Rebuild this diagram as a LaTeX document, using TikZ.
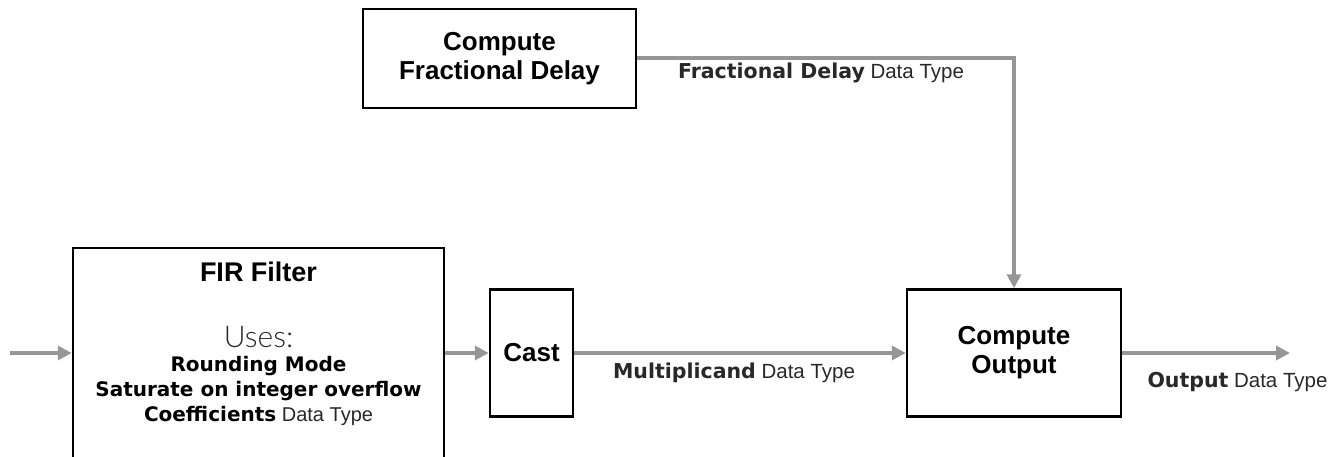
\documentclass[tikz,border=0pt]{standalone}
\usepackage{fontspec}
\setmainfont{Liberation Sans}
\newfontfamily\heavyfont{DejaVu Sans}
\newfontfamily\lightfont{Lato Light}
\usetikzlibrary{arrows.meta}
\definecolor{arrowgray}{RGB}{150,150,150}
\definecolor{lbltext}{RGB}{40,40,40}
\newcommand\hv[1]{{\heavyfont\bfseries #1}}
\tikzset{
  blockbox/.style={draw=black, line width=2.5pt, inner sep=0pt, align=center,
    font=\fontsize{26}{29}\selectfont\bfseries},
  conn/.style={draw=arrowgray, line width=4pt, -{Triangle[length=14pt,width=14pt]}},
  lbl/.style={inner sep=0pt, text=lbltext, font=\fontsize{20.5}{24}\selectfont},
  firtext/.style={inner sep=0pt, align=center}
}
\begin{document}
\begin{tikzpicture}[x=1pt,y=-1pt]
\useasboundingbox (0,0) rectangle (1343,457);
% blocks
\node[blockbox, minimum width=273pt, minimum height=99pt] (cfd) at (499.5,58.5) {Compute\\Fractional Delay};
\node[blockbox, minimum width=371pt, minimum height=222pt] (fir) at (258.5,359) {};
\node[blockbox, minimum width=83pt, minimum height=127pt] (cast) at (531.5,353) {Cast};
\node[blockbox, minimum width=214pt, minimum height=127pt] (co) at (1014,353) {Compute\\Output};
% FIR texts
\node[firtext, font=\fontsize{27}{30}\selectfont\bfseries] (firtitle) at (258.5,272) {FIR Filter};
\node[firtext, font=\fontsize{30}{34}\lightfont, text=lbltext] (uses) at (258.5,337) {Uses:};
\node[firtext, font=\fontsize{20}{25}\selectfont] (firlist) at (258.5,391)
  {\hv{Rounding Mode}\\\hv{Saturate on integer overflow}\\\hv{Coefficients} {\fontsize{20}{25}\selectfont\color{lbltext}Data Type}};
% connectors
\coordinate (in) at (10,353);
\coordinate (out) at (1290,353);
\draw[conn] (in) -- (in -| fir.west);
\draw[conn] (in -| fir.east) -- (cast.west);
\draw[conn] (cast.east) -- (co.west);
\draw[conn] (co.east) -- (out);
\draw[conn] (cfd.east) -| (co.north);
% labels
\node[lbl] (lfd) at (821,73) {\hv{Fractional Delay} Data Type};
\node[lbl] (lmul) at (734,373) {\hv{Multiplicand} Data Type};
\node[lbl] (lout) at (1237.5,382) {\hv{Output} Data Type};
\end{tikzpicture}
\end{document}
